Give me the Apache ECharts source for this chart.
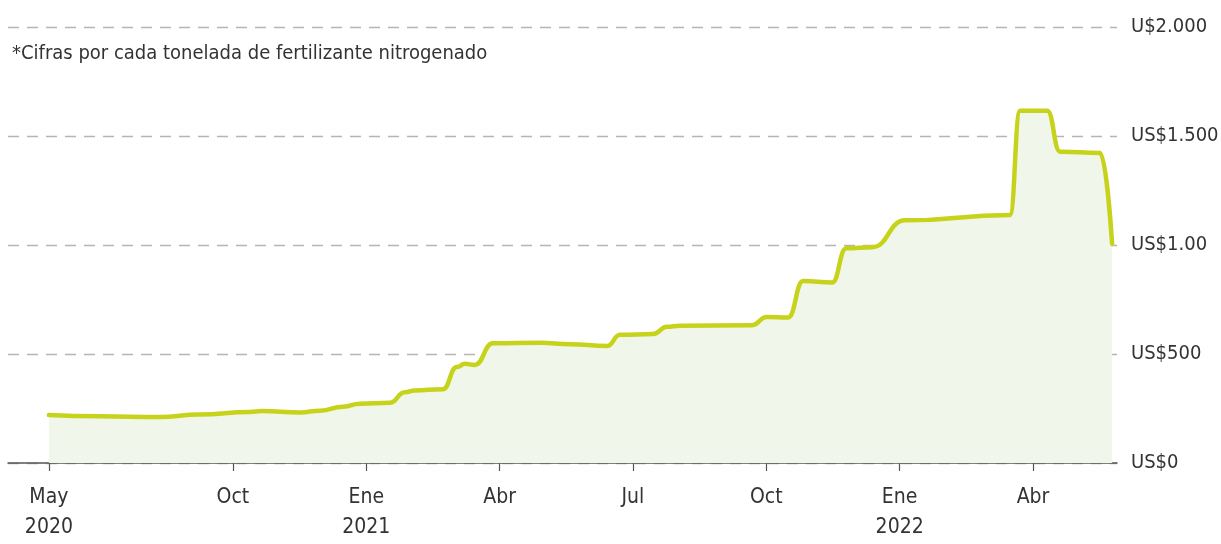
<!DOCTYPE html>
<html>
<head>
<meta charset="utf-8">
<script src="https://cdn.jsdelivr.net/npm/echarts@6/dist/echarts.min.js"></script>
<style>
  html, body { margin: 0; padding: 0; background: #fff; }
  #chart { width: 1221px; height: 544px; }
</style>
</head>
<body>
<div id="chart"></div>
<script>
// x = months relative to Ene 2021 (as placed on the original axis)
const monthPos = [-7.14, -6.0, -4.65, -3.75, -2.62, -2.35, -1.49, -1.04, -0.52, -0.14, 0.53, 0.87, 1.09, 1.72, 2.04, 2.22, 2.44, 2.85, 3.91, 4.58, 5.42, 5.71, 6.45, 6.77, 7.06, 8.68, 9.01, 9.49, 9.83, 10.48, 10.80, 11.38, 12.12, 14.48, 14.71, 15.32, 15.61, 16.51, 16.78];
const priceUsd = [220, 214, 211, 222, 234, 238, 232, 240, 258, 272, 276, 325, 333, 338, 440, 455, 450, 549, 552, 545, 537, 588, 592, 625, 630, 632, 670, 667, 835, 828, 985, 990, 1113, 1138, 1616, 1616, 1428, 1422, 1005];

const tickPos = [-7.14, -3, 0, 3, 6, 9, 12, 15];
const tickLabels = ['May\n2020', 'Oct', 'Ene\n2021', 'Abr', 'Jul', 'Oct', 'Ene\n2022', 'Abr'];
const yTicks = [0, 500, 1000, 1500, 2000];
const yLabels = ['US$0', 'US$500', 'US$1.00', 'US$1.500', 'U$2.000'];

const FONT = "'Liberation Sans Narrow', 'DejaVu Sans Condensed', sans-serif";

const chart = echarts.init(document.getElementById('chart'));
chart.setOption({
  animation: false,
  title: {
    text: '*Cifras por cada tonelada de fertilizante nitrogenado',
    left: 7,
    top: 39,
    textStyle: { fontFamily: FONT, fontSize: 20, fontWeight: 'normal', color: '#333' }
  },
  grid: { left: 8, right: 104, top: 27, bottom: 81, outerBoundsMode: 'none' },
  xAxis: {
    type: 'value',
    min: -8.06,
    max: 16.89,
    splitLine: { show: false },
    axisLine: { lineStyle: { color: '#555', width: 1.5 } },
    axisTick: { show: true, length: 8, customValues: tickPos, lineStyle: { color: '#555', width: 1.2 } },
    axisLabel: {
      customValues: tickPos,
      margin: 20,
      fontFamily: FONT,
      fontSize: 21,
      lineHeight: 30,
      color: '#333',
      formatter: (v) => tickLabels[tickPos.indexOf(v)] || ''
    }
  },
  yAxis: {
    type: 'value',
    position: 'right',
    min: 0,
    max: 2000,
    interval: 500,
    axisLine: { show: false },
    axisTick: { show: false },
    splitLine: { lineStyle: { color: '#b5b5b5', type: [11, 8], width: 1.3 } },
    axisLabel: {
      margin: 14,
      fontFamily: FONT,
      fontSize: 20,
      color: '#333',
      formatter: (v) => yLabels[yTicks.indexOf(v)] || ''
    }
  },
  series: [{
    type: 'line',
    data: monthPos.map((m, i) => [m, priceUsd[i]]),
    showSymbol: false,
    smooth: 0.5,
    smoothMonotone: 'x',
    lineStyle: { color: '#c6d31a', width: 4.5, join: 'round', cap: 'round' },
    areaStyle: { color: '#f1f6ea', opacity: 1 }
  }]
});
</script>
</body>
</html>
